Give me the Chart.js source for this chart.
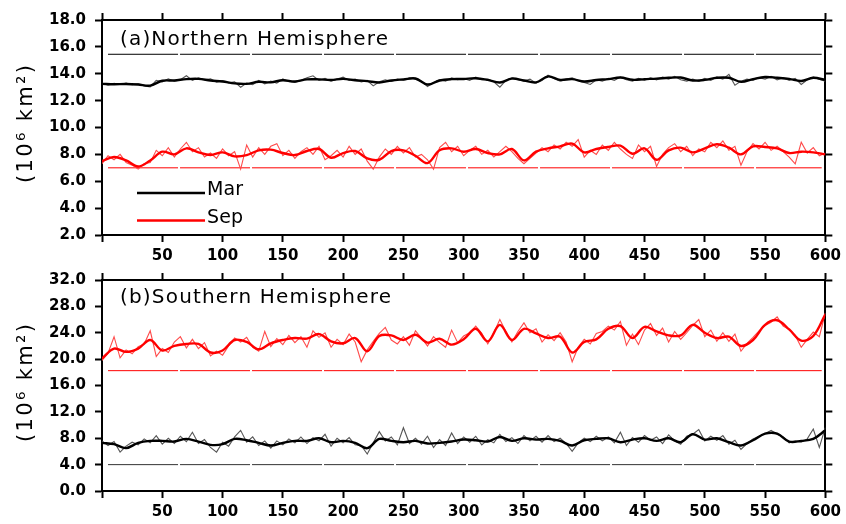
<!DOCTYPE html>
<html>
<head>
<meta charset="utf-8">
<script src="https://cdn.jsdelivr.net/npm/chart.js@4.4.1/dist/chart.umd.min.js"></script>
<style>
  html, body { margin: 0; padding: 0; background: #fff; }
  #wrap { position: relative; width: 846px; height: 524px; overflow: hidden; }
  #wrap canvas { position: absolute; left: 0; }
</style>
</head>
<body>
<div id="wrap">
  <canvas id="nhChart" width="846" height="272" style="top:0"></canvas>
  <canvas id="shChart" width="846" height="262" style="top:262px"></canvas>
</div>
<script>
// sampling grids (model years)
const yearsSmooth = Array.from({ length: 61 }, (_, i) => i * 10);
const yearsAnnual = Array.from({ length: 121 }, (_, i) => i * 5);
const refYears = [5, 597];
const xTicks = { min: 0, max: 600, step: 50 };

// (a) Northern Hemisphere, 10^6 km2
const nhMarSmooth = [
  13.25, 13.22, 13.24, 13.2, 13.12, 13.48, 13.5, 13.6, 13.62, 13.5,
  13.42, 13.28, 13.25, 13.4, 13.36, 13.52, 13.42, 13.58, 13.58, 13.54,
  13.62, 13.52, 13.45, 13.35, 13.5, 13.58, 13.65, 13.2, 13.5, 13.6,
  13.61, 13.66, 13.54, 13.35, 13.64, 13.5, 13.36, 13.8, 13.54, 13.6,
  13.42, 13.54, 13.6, 13.72, 13.55, 13.6, 13.64, 13.7, 13.72, 13.5,
  13.54, 13.7, 13.7, 13.4, 13.6, 13.76, 13.7, 13.62, 13.46, 13.7,
  13.54
];
const nhMarAnnual = [
  13.3, 13.15, 13.28, 13.2, 13.3, 13.18, 13.25, 13.1, 13.02, 13.5,
  13.4, 13.62, 13.45, 13.55, 13.85, 13.5, 13.7, 13.55, 13.62, 13.38,
  13.5, 13.32, 13.4, 13.0, 13.3, 13.18, 13.5, 13.25, 13.45, 13.3,
  13.62, 13.4, 13.35, 13.5, 13.7, 13.85, 13.5, 13.65, 13.45, 13.6,
  13.75, 13.5, 13.6, 13.4, 13.5, 13.1, 13.4, 13.55, 13.42, 13.6,
  13.5, 13.7, 13.6, 13.45, 13.05, 13.35, 13.55, 13.45, 13.7, 13.55,
  13.65, 13.5, 13.75, 13.55, 13.6, 13.4, 13.0, 13.5, 13.7, 13.55,
  13.45, 13.6, 13.3, 13.5, 13.9, 13.65, 13.45, 13.6, 13.7, 13.5,
  13.35, 13.2, 13.55, 13.45, 13.65, 13.5, 13.75, 13.55, 13.45, 13.65,
  13.5, 13.7, 13.55, 13.75, 13.6, 13.8, 13.55, 13.45, 13.6, 13.45,
  13.65, 13.5, 13.75, 13.6, 13.95, 13.15, 13.45, 13.6, 13.5, 13.7,
  13.6, 13.8, 13.55, 13.7, 13.5, 13.65, 13.2, 13.55, 13.75, 13.6,
  13.45
];
const nhSepSmooth = [
  7.5, 7.8, 7.55, 7.1, 7.55, 8.2, 8.0, 8.45, 8.15, 7.95,
  8.15, 7.85, 7.95, 8.3, 8.35, 8.1, 7.95, 8.25, 8.4, 7.75,
  8.1, 8.25, 7.7, 7.6, 8.25, 8.3, 7.9, 7.35, 8.3, 8.45,
  8.2, 8.4, 8.1, 8.0, 8.4, 7.55, 8.2, 8.45, 8.6, 8.8,
  8.15, 8.4, 8.55, 8.65, 8.05, 8.45, 7.6, 8.3, 8.5, 8.15,
  8.45, 8.75, 8.5, 8.0, 8.6, 8.55, 8.45, 8.1, 8.2, 8.15,
  8.0
];
const nhSepAnnual = [
  7.3, 7.9, 7.6, 8.0, 7.4, 7.2, 6.9, 7.3, 7.4, 8.3,
  7.9, 8.5, 7.8, 8.4, 8.9, 8.2, 8.5, 7.8, 8.1, 7.7,
  8.4, 7.9, 8.2, 6.9, 8.7, 7.8, 8.5, 8.0, 8.6, 8.8,
  7.9, 8.3, 7.7, 8.2, 8.5, 8.0, 8.6, 7.6, 7.9, 8.3,
  7.8, 8.6, 8.0, 8.4, 7.5, 6.9, 7.8, 8.4, 8.0, 8.6,
  8.1, 8.5, 7.8, 8.0, 7.6, 6.9, 8.5, 8.9, 8.2, 8.6,
  7.9, 8.3, 8.6, 8.0, 8.3, 7.8, 8.2, 8.6, 8.2, 7.7,
  7.3, 7.7, 8.1, 8.5, 8.2, 8.7, 8.4, 8.9, 8.6, 9.1,
  7.8, 8.3, 8.0, 8.7, 8.3, 8.9, 8.4, 8.0, 7.7, 8.7,
  8.2, 8.6, 7.1, 8.0, 8.5, 8.8, 8.2, 8.6, 7.9, 8.4,
  8.2, 8.9, 8.5, 9.0, 8.3, 8.6, 7.2, 8.2, 8.8, 8.4,
  8.9, 8.3, 8.6, 8.2, 7.8, 7.3, 8.9, 8.1, 8.5, 7.9,
  8.1
];
const nhRef = { mar: 15.45, sep: 7.0 };
const nhYTicks = { min: 2, max: 18, step: 2 };

// (b) Southern Hemisphere, 10^6 km2
const shSepSmooth = [
  20.1, 21.6, 21.1, 21.6, 22.9, 21.3, 22.0, 22.3, 22.3, 21.0,
  21.3, 22.9, 22.6, 21.5, 22.4, 22.9, 23.2, 23.1, 23.8, 22.7,
  22.4, 23.2, 21.2, 23.5, 23.6, 22.9, 23.7, 22.5, 23.1, 22.2,
  23.0, 24.6, 22.7, 25.2, 22.9, 24.6, 23.9, 23.2, 23.4, 21.0,
  22.6, 23.0, 24.6, 25.0, 23.2, 24.9, 24.2, 23.6, 23.6, 25.2,
  24.0, 23.2, 23.4, 22.0, 22.9, 25.2, 25.9, 24.5, 22.8, 23.5,
  26.8
];
const shSepAnnual = [
  19.8, 20.9, 23.4, 20.2, 21.4, 20.8, 21.9, 22.3, 24.3, 20.4,
  21.6, 21.0, 22.6, 23.4, 21.7, 23.0, 21.6, 22.5, 20.5, 21.2,
  20.6, 22.0, 23.2, 22.6, 23.3, 21.8, 21.2, 24.2, 21.9, 23.1,
  22.2, 23.6, 22.5, 23.4, 21.8, 24.3, 23.3, 24.0, 21.8, 23.0,
  22.2, 23.8, 22.6, 19.6, 21.4, 22.7, 23.9, 24.8, 22.9, 22.3,
  23.4, 22.1, 24.3, 23.2, 22.0, 23.4, 22.5, 21.8, 24.4, 22.5,
  23.5, 24.0, 25.0, 23.9, 22.3, 24.0, 26.0, 24.2, 22.6, 24.2,
  25.5, 24.0, 24.6, 22.6, 23.7, 22.8, 24.0, 22.6, 19.6, 21.8,
  23.0, 22.3, 23.9, 24.2, 25.0, 24.4, 25.7, 22.1, 23.8, 22.2,
  24.4, 25.4, 23.6, 24.7, 22.6, 24.2, 23.0, 24.0, 25.1, 26.0,
  23.4, 24.4, 22.7, 24.0, 22.7, 23.8, 21.2, 22.4, 23.3, 24.3,
  25.1, 25.6, 26.4, 25.0, 24.5, 23.6, 21.8, 23.0, 24.1, 23.4,
  27.0
];
const shMarSmooth = [
  7.3, 7.1, 6.5, 7.3, 7.6, 7.6, 7.5, 7.9, 7.5, 7.0,
  7.1, 7.9, 7.7, 7.3, 6.9, 7.3, 7.6, 7.6, 8.0, 7.4,
  7.6, 7.3, 6.5, 7.9, 7.6, 7.4, 7.6, 7.2, 7.3, 7.5,
  7.8, 7.7, 7.5, 8.2, 7.6, 8.0, 7.8, 7.9, 7.6, 6.9,
  7.7, 7.9, 8.0, 7.4, 7.8, 8.0, 7.6, 8.0, 7.4, 8.6,
  7.8, 8.0, 7.4, 6.9, 7.7, 8.7, 8.7, 7.5, 7.6, 7.9,
  9.2
];
const shMarAnnual = [
  7.6, 6.9, 7.5, 5.9, 6.8, 7.4, 7.0, 7.9, 7.3, 8.4,
  7.1, 8.0, 7.2, 8.3, 7.5, 8.9, 7.2, 7.8, 6.6, 5.9,
  7.4, 6.8, 8.2, 9.2, 7.4, 8.2, 6.9, 7.6, 6.5, 7.6,
  7.0, 7.9, 7.3, 8.2, 7.2, 8.1, 7.6, 8.6, 6.8, 8.0,
  7.3, 8.1, 7.0, 6.9, 5.6, 7.3, 9.0, 7.6, 8.2, 7.0,
  9.6, 7.2, 8.0, 7.1, 8.3, 6.6, 7.8, 6.9, 8.8, 7.2,
  8.2, 7.4, 8.3, 7.0, 7.8, 7.3, 8.6, 7.5, 8.1, 7.2,
  8.4, 7.6, 8.3, 7.4, 8.4, 7.5, 8.0, 7.2, 6.0, 7.3,
  8.0, 7.5, 8.3, 7.6, 8.2, 7.3, 8.9, 6.9, 8.1, 7.4,
  8.4, 7.7, 8.2, 7.2, 8.5, 7.6, 7.1, 8.3, 8.6, 9.3,
  7.6, 8.3, 7.7, 8.4, 7.1, 7.7, 6.3, 7.2, 7.9, 8.3,
  8.7, 9.2, 8.6, 8.2, 7.3, 7.6, 7.4, 7.9, 9.4, 6.6,
  9.6
];
const shRef = { sep: 18.25, mar: 4.0 };
const shYTicks = { min: 0, max: 32, step: 4 };

const legendLabels = ['Mar', 'Sep'];
const yTitle = '(10\u2076 km\u00b2)';

const RED = '#ff0000', RED_THIN = '#ff4a4a';
const BLACK = '#000000', BLACK_THIN = '#555555';

function pts(xs, ys) {
  return ys.map((y, i) => ({ x: xs[i], y: y }));
}

function line(xs, ys, color, width, dash, smooth) {
  return {
    data: pts(xs, ys),
    borderColor: color,
    borderWidth: width,
    borderDash: dash || [],
    pointRadius: 0,
    tension: smooth ? 0.35 : 0,
    fill: false
  };
}

function refLine(value, color) {
  return line(refYears, refYears.map(() => value), color, 1, [70, 2]);
}

// text with spacing stretched to match the original plot's wide lettering
function spacedText(ctx, text, x, y, width) {
  ctx.letterSpacing = '0px';
  const w = ctx.measureText(text).width;
  const sp = Math.max(0, (width - w) / (text.length - 1));
  ctx.letterSpacing = sp.toFixed(2) + 'px';
  ctx.fillText(text, x, y);
  ctx.letterSpacing = '0px';
}

const panelText = {
  id: 'panelText',
  afterDraw(chart, args, o) {
    const ctx = chart.ctx;
    ctx.save();
    ctx.fillStyle = '#000';
    ctx.textBaseline = 'alphabetic';
    ctx.textAlign = 'left';
    ctx.font = '20px "DejaVu Sans"';
    spacedText(ctx, o.title, o.titleX, o.titleY, o.titleW);

    // rotated y axis title
    ctx.save();
    ctx.translate(o.yTitleX, o.yTitleY);
    ctx.rotate(-Math.PI / 2);
    ctx.font = '21px "DejaVu Sans"';
    ctx.textBaseline = 'middle';
    spacedText(ctx, yTitle, -59, 0, 118);
    ctx.restore();

    if (o.legend) {
      const colors = [BLACK, RED];
      o.legend.rows.forEach((ly, i) => {
        ctx.strokeStyle = colors[i];
        ctx.lineWidth = 2.5;
        ctx.beginPath();
        ctx.moveTo(o.legend.x0, ly);
        ctx.lineTo(o.legend.x1, ly);
        ctx.stroke();
        ctx.font = '19px "DejaVu Sans"';
        spacedText(ctx, legendLabels[i], o.legend.x1 + 2, ly + 2, 36);
      });
    }
    ctx.restore();
  }
};

function makeScales(yt, topH, bottomH) {
  const tickFont = { family: 'DejaVu Sans', size: 15, weight: 'bold' };
  const grid = {
    display: true, drawOnChartArea: false, drawTicks: true,
    tickLength: 7, tickWidth: 2, tickColor: '#000', color: '#000'
  };
  const border = { display: true, color: '#000', width: 2 };
  return {
    x: {
      type: 'linear', position: 'bottom', min: xTicks.min, max: xTicks.max,
      ticks: {
        stepSize: xTicks.step, autoSkip: false, maxRotation: 0, padding: 5,
        color: '#000', font: tickFont,
        callback: v => (v === 0 ? '' : v)
      },
      grid: grid, border: border,
      afterFit: s => { s.height = bottomH; }
    },
    xTop: {
      type: 'linear', position: 'top', min: xTicks.min, max: xTicks.max,
      ticks: { stepSize: xTicks.step, display: false },
      grid: grid, border: border,
      afterFit: s => { s.height = topH; }
    },
    y: {
      type: 'linear', position: 'left', min: yt.min, max: yt.max,
      ticks: {
        stepSize: yt.step, padding: 9, color: '#000', font: tickFont,
        callback: v => Number(v).toFixed(1)
      },
      grid: grid, border: border,
      afterFit: s => { s.width = 102; }
    },
    yRight: {
      type: 'linear', position: 'right', min: yt.min, max: yt.max,
      ticks: { stepSize: yt.step, display: false },
      grid: grid, border: border,
      afterFit: s => { s.width = 20; }
    }
  };
}

function baseOptions(yt, topH, bottomH, textOpts) {
  return {
    responsive: false,
    animation: false,
    events: [],
    layout: { padding: 0 },
    plugins: {
      legend: { display: false },
      tooltip: { enabled: false },
      panelText: textOpts
    },
    scales: makeScales(yt, topH, bottomH)
  };
}

new Chart(document.getElementById('nhChart'), {
  type: 'line',
  data: {
    datasets: [
      line(yearsSmooth, nhMarSmooth, BLACK, 2.4, null, true),
      line(yearsSmooth, nhSepSmooth, RED, 2.4, null, true),
      line(yearsAnnual, nhMarAnnual, BLACK_THIN, 1.1),
      line(yearsAnnual, nhSepAnnual, RED_THIN, 1.1),
      refLine(nhRef.mar, BLACK),
      refLine(nhRef.sep, RED)
    ]
  },
  options: baseOptions(nhYTicks, 20, 37, {
    title: '(a)Northern Hemisphere', titleX: 120, titleY: 45, titleW: 268,
    yTitleX: 27, yTitleY: 124,
    legend: { x0: 137, x1: 205, rows: [193, 220.5] }
  }),
  plugins: [panelText]
});

new Chart(document.getElementById('shChart'), {
  type: 'line',
  data: {
    datasets: [
      line(yearsSmooth, shSepSmooth, RED, 2.4, null, true),
      line(yearsSmooth, shMarSmooth, BLACK, 2.4, null, true),
      line(yearsAnnual, shSepAnnual, RED_THIN, 1.1),
      line(yearsAnnual, shMarAnnual, BLACK_THIN, 1.1),
      refLine(shRef.sep, RED),
      refLine(shRef.mar, '#333333')
    ]
  },
  options: baseOptions(shYTicks, 14, 33, {
    title: '(b)Southern Hemisphere', titleX: 120, titleY: 41, titleW: 271,
    yTitleX: 27, yTitleY: 121,
    legend: null
  }),
  plugins: [panelText]
});
</script>
</body>
</html>
